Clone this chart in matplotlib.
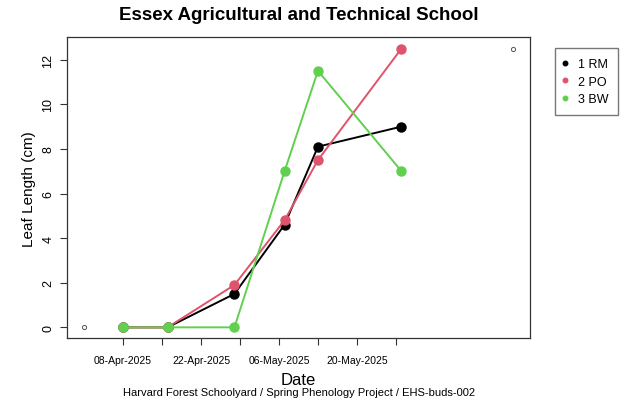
import matplotlib.pyplot as plt
import matplotlib.dates as mdates
import pandas as pd

plt.rcParams['font.family'] = ['Liberation Sans', 'DejaVu Sans']

# leaf measurements per tree
dates = pd.to_datetime(['2025-04-08', '2025-04-16', '2025-04-28',
                        '2025-05-07', '2025-05-13', '2025-05-28'])
rm = [0, 0, 1.5, 4.6, 8.1, 9.0]
po = [0, 0, 1.9, 4.8, 7.5, 12.5]
bw = [0, 0, 0, 7.0, 11.5, 7.0]

# points that set the overall plot range
range_dates = pd.to_datetime(['2025-04-01', '2025-06-17'])
range_vals = [0, 12.5]

tick_dates = pd.date_range('2025-04-08', '2025-05-27', freq='7D')
labelled = {'2025-04-08', '2025-04-22', '2025-05-06', '2025-05-20'}

series = [('1 RM', rm, 'black'), ('2 PO', po, '#DF536B'), ('3 BW', bw, '#61D04F')]

fig = plt.figure(figsize=(6.26, 4.02), dpi=100)
ax = fig.add_axes([0.107, 0.1555, 0.7396, 0.749])

ax.plot(range_dates, range_vals, 'o', ms=3, mfc='white', mec='#555555', mew=0.7)
for name, vals, col in series:
    ax.plot(dates, vals, '-o', color=col, lw=1.4, ms=6.5, label=name)

x0 = mdates.date2num(range_dates[0])
x1 = mdates.date2num(range_dates[1])
pad = (x1 - x0) * 0.04
ax.set_xlim(x0 - pad, x1 + pad)
ax.set_ylim(-0.5, 13)

ax.set_xticks(tick_dates)
ax.set_xticklabels([d.strftime('%d-%b-%Y') if d.strftime('%Y-%m-%d') in labelled else ''
                    for d in tick_dates], fontsize=7.5)
ax.set_yticks(range(0, 13, 2))
ax.set_yticklabels([str(v) for v in range(0, 13, 2)], rotation=90, va='center', fontsize=9)
ax.tick_params(direction='out', length=5, width=0.8, color='#333333', pad=4)
ax.tick_params(axis='x', pad=7)
for sp in ax.spines.values():
    sp.set_color('#333333')
    sp.set_linewidth(0.9)

ax.set_ylabel('Leaf Length (cm)', fontsize=11, labelpad=5)
ax.set_title('Essex Agricultural and Technical School', fontsize=13.5,
             fontweight='bold', pad=13)
fig.text(0.477, 0.054, 'Date', ha='center', va='center', fontsize=12)
fig.text(0.477, 0.022, 'Harvard Forest Schoolyard / Spring Phenology Project / EHS-buds-002',
         ha='center', va='center', fontsize=8)

leg = fig.legend(loc='upper left', bbox_to_anchor=(0.8866, 0.878), frameon=True,
                 fancybox=False, edgecolor='#555555', fontsize=9,
                 handlelength=0, handletextpad=1.0, markerscale=0.5,
                 borderpad=0.8, labelspacing=0.45, borderaxespad=0)
for h in leg.legend_handles:
    h.set_linestyle('none')

fig.savefig('out.png', dpi=100)
